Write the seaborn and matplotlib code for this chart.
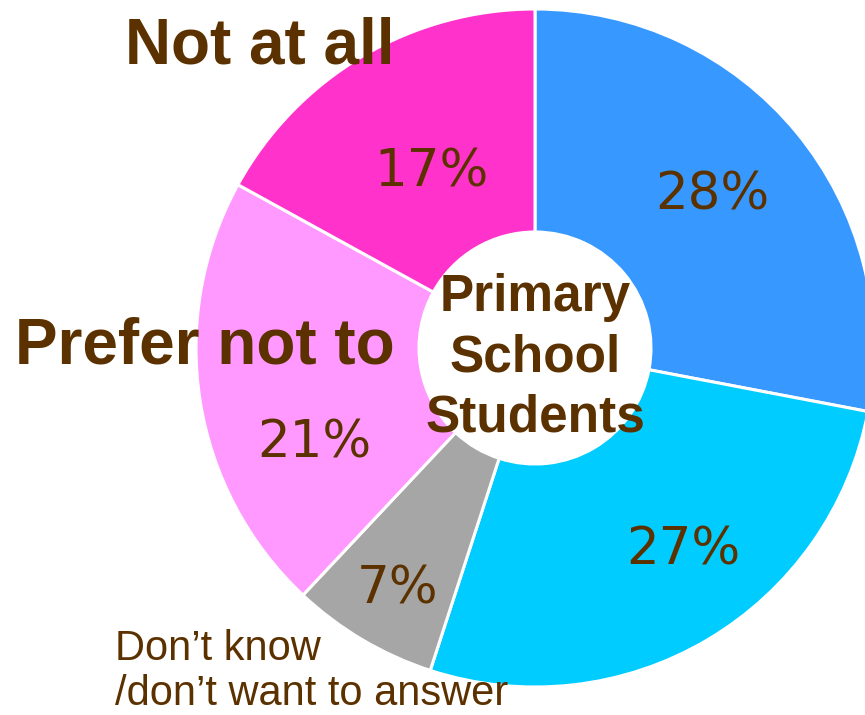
import numpy as np
import matplotlib
matplotlib.use("Agg")
import matplotlib.pyplot as plt
import seaborn as sns

# ---- data ----
categories = ["Yes", "Sometimes", "Don’t know /don’t want to answer", "Prefer not to", "Not at all"]
values = [28, 27, 7, 21, 17]
pct_labels = ["28%", "27%", "7%", "21%", "17%"]
colors = ["#3799FF", "#00CCFF", "#A6A6A6", "#FF99FF", "#FF33CC"]
center_text = "Primary\nSchool\nStudents"

# label placement styles (radial fraction of outer radius, angle offset in degrees)
label_rfrac = [0.69, 0.74, 0.82, 0.71, 0.60]
label_dang = [1.0, 5.6, 0.9, 14.5, 0.0]

sns.set_theme(style="white")
plt.rcParams["font.family"] = ["Liberation Sans", "DejaVu Sans"]

W, H = 865, 715
fig = plt.figure(figsize=(W / 100, H / 100), dpi=100)
ax = fig.add_axes([0, 0, 1, 1])

brown = "#5C3100"
cx, cy = 535, H - 348
R = 339
hole = 116

wedges, _ = ax.pie(values, colors=colors, startangle=90, counterclock=False,
                   center=(cx, cy), radius=R, frame=True,
                   wedgeprops=dict(width=R - hole, edgecolor="white", linewidth=2.2))
ax.set_xlim(0, W)
ax.set_ylim(0, H)
ax.set_aspect("equal")
ax.axis("off")

for w, lab, rf, da in zip(wedges, pct_labels, label_rfrac, label_dang):
    ang = np.deg2rad((w.theta1 + w.theta2) / 2 + da)
    ax.text(cx + rf * R * np.cos(ang), cy + rf * R * np.sin(ang), lab,
            ha="center", va="center", fontsize=37, color=brown,
            family=["DejaVu Sans"])

ax.text(cx, H - 358, center_text, ha="center", va="center", fontsize=37,
        fontweight="bold", color=brown, linespacing=1.3)

def py(y):
    return H - y

ax.text(125, py(63), categories[4], ha="left", va="baseline", fontsize=46,
        fontweight="bold", color=brown)
ax.text(15, py(363), categories[3], ha="left", va="baseline", fontsize=46,
        fontweight="bold", color=brown)
line1, line2 = "Don’t know", "/don’t want to answer"
ax.text(115, py(660), line1, ha="left", va="baseline", fontsize=30, color=brown)
ax.text(115, py(705), line2, ha="left", va="baseline", fontsize=30, color=brown)

fig.savefig("out.png", dpi=100, facecolor="white")
